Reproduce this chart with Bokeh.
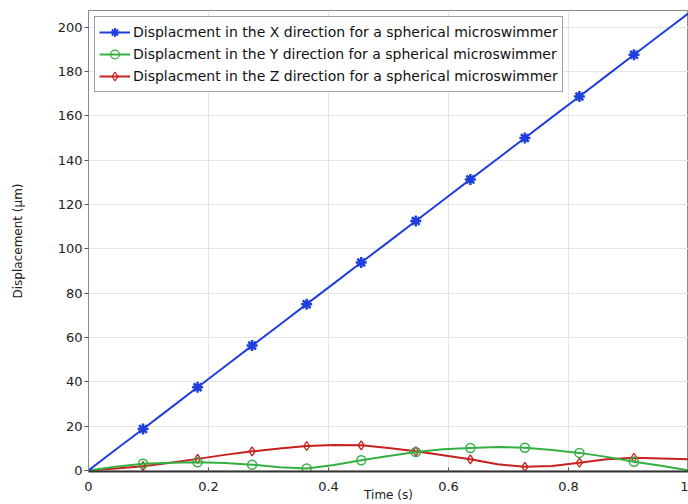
from bokeh.plotting import figure
from bokeh.models import ColumnDataSource, SingleIntervalTicker, Range1d, Legend, LegendItem
from bokeh.embed import file_html
from bokeh.resources import INLINE

# time grid (s)
t = [0.0, 0.0455, 0.0909, 0.1364, 0.1818, 0.2273, 0.2727, 0.3182, 0.3636, 0.4091, 0.4545,
     0.5, 0.5455, 0.5909, 0.6364, 0.6818, 0.7273, 0.7727, 0.8182, 0.8636, 0.9091, 0.9545, 1.0]
# displacement (um)
disp_x = [0.0, 9.4, 18.7, 28.1, 37.5, 46.9, 56.3, 65.6, 75.0, 84.4, 93.8,
          103.1, 112.5, 121.9, 131.3, 140.6, 150.0, 159.4, 168.7, 178.1, 187.5, 196.9, 206.2]
disp_y = [0.0, 1.6, 3.0, 3.5, 3.7, 3.3, 2.6, 1.4, 0.9, 2.4, 4.6,
          6.5, 8.3, 9.5, 10.1, 10.6, 10.2, 9.2, 7.9, 6.1, 3.9, 2.1, 0.0]
disp_z = [0.0, 0.9, 1.9, 3.5, 5.2, 7.0, 8.6, 9.9, 11.0, 11.5, 11.3,
          10.1, 8.6, 6.8, 5.0, 2.8, 1.6, 2.0, 3.5, 5.0, 5.7, 5.4, 5.0]
# markers every other sample, interior only
marker_idx = [2, 4, 6, 8, 10, 12, 14, 16, 18, 20]

labels = ["Displacment in the X direction for a spherical microswimmer",
          "Displacment in the Y direction for a spherical microswimmer",
          "Displacment in the Z direction for a spherical microswimmer"]
colors = ["#1f3fdc", "#34b042", "#c8201e"]

FONT = "DejaVu Sans"

p = figure(width=688, height=504, output_backend="svg", toolbar_location=None,
           x_range=Range1d(0, 1), y_range=Range1d(-0.5, 207.5),
           min_border_left=88, min_border_right=0, min_border_top=10, min_border_bottom=32)

p.background_fill_color = "white"
p.border_fill_color = "white"
p.outline_line_color = "#8a8a8a"
p.outline_line_width = 1

p.xaxis.ticker = SingleIntervalTicker(interval=0.2)
p.yaxis.ticker = SingleIntervalTicker(interval=20)
p.xgrid.grid_line_color = "#e4e4e4"
p.ygrid.grid_line_color = "#e4e4e4"

for ax in (p.xaxis[0], p.yaxis[0]):
    ax.major_label_text_font = FONT
    ax.major_label_text_font_size = "13px"
    ax.major_label_text_color = "#222222"
    ax.axis_label_text_font = FONT
    ax.axis_label_text_font_style = "normal"
    ax.axis_label_text_font_size = "12px"
    ax.axis_label_text_color = "#222222"
    ax.minor_tick_line_color = None
    ax.major_tick_line_color = "#555555"

p.xaxis.axis_label = "Time (s)"
p.xaxis.major_tick_in = 4
p.xaxis.major_tick_out = 0
p.xaxis.major_label_standoff = 6
p.xaxis.axis_label_standoff = -6
p.xaxis.axis_line_color = "#333333"
p.xaxis.axis_line_width = 2

p.yaxis.axis_label = "Displacement (µm)"
p.yaxis.major_tick_in = 0
p.yaxis.major_tick_out = 4
p.yaxis.major_label_standoff = 2
p.yaxis.axis_label_standoff = 30
p.yaxis.axis_line_color = "#8a8a8a"

src = ColumnDataSource(dict(t=t, x=disp_x, y=disp_y, z=disp_z))
msrc = ColumnDataSource(dict(t=[t[i] for i in marker_idx],
                             x=[disp_x[i] for i in marker_idx],
                             y=[disp_y[i] for i in marker_idx],
                             z=[disp_z[i] for i in marker_idx]))

# Z first so X is drawn on top
lz = p.line("t", "z", source=src, line_color=colors[2], line_width=2)
p.scatter("t", "z", source=msrc, marker="diamond", size=9, line_color=colors[2],
          fill_color=None, line_width=1.3)
ly = p.line("t", "y", source=src, line_color=colors[1], line_width=2)
p.scatter("t", "y", source=msrc, marker="circle", size=9, line_color=colors[1],
          fill_color=None, line_width=1.5)
lx = p.line("t", "x", source=src, line_color=colors[0], line_width=2)
p.scatter("t", "x", source=msrc, marker="asterisk", size=11, line_color=colors[0],
          line_width=2.5)

# smaller legend-only markers (hidden in the plot)
gx = p.scatter("t", "x", source=msrc, marker="asterisk", size=8, line_color=colors[0],
               line_width=2, visible=False)
gy = p.scatter("t", "y", source=msrc, marker="circle", size=6, line_color=colors[1],
               fill_color=None, line_width=1.2, visible=False)
gz = p.scatter("t", "z", source=msrc, marker="diamond", size=6, line_color=colors[2],
               fill_color=None, line_width=1.2, visible=False)

legend = Legend(items=[LegendItem(label=labels[0], renderers=[lx, gx]),
                       LegendItem(label=labels[1], renderers=[ly, gy]),
                       LegendItem(label=labels[2], renderers=[lz, gz])],
                location="top_left")
legend.margin = 6
legend.padding = 4
legend.spacing = 0
legend.label_height = 22
legend.glyph_height = 22
legend.glyph_width = 31
legend.label_standoff = 3
legend.label_text_font = FONT
legend.label_text_font_size = "14px"
legend.label_text_color = "#111111"
legend.border_line_color = "#444444"
legend.border_line_width = 1
legend.background_fill_color = "white"
legend.background_fill_alpha = 1.0
legend.inactive_fill_alpha = 0.0
p.add_layout(legend, "center")

open("out.html", "w").write(file_html(p, INLINE))
